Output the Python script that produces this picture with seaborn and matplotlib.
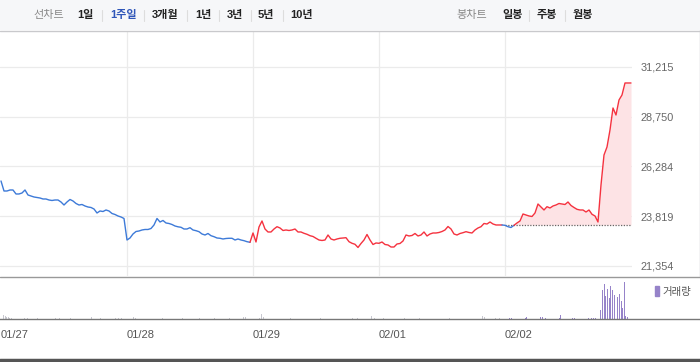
import pandas as pd
import matplotlib
matplotlib.use("Agg")
import matplotlib.pyplot as plt
import seaborn as sns
from matplotlib.patches import Rectangle, Patch
from matplotlib.lines import Line2D

# === data ===
dates = ["01/27", "01/28", "01/29", "02/01", "02/02"]

# intraday prices, evenly spaced samples per day
day1 = [25566, 25070, 25070, 25120, 25120, 24922, 24922, 24971, 25120, 24872, 24822, 24773, 24748, 24723,
        24674, 24674, 24624, 24600, 24624, 24624, 24525, 24376, 24525, 24649, 24575, 24451, 24376, 24401,
        24327, 24277, 24253, 24178, 23980, 24079, 24054, 24129, 24079, 23955, 23906, 23832, 23782, 23708]
day2 = [22642, 22741, 22940, 23063, 23088, 23138, 23163, 23163, 23212, 23386, 23708, 23534, 23609, 23485,
        23460, 23410, 23336, 23296, 23272, 23187, 23187, 23252, 23138, 23103, 23054, 22940, 22890, 22964,
        22855, 22806, 22741, 22727, 22692, 22717, 22727, 22727, 22642, 22692, 22642, 22608, 22558, 22528]
day3 = [22989, 22543, 23286, 23584, 23187, 23039, 23039, 23187, 23301, 23237, 23113, 23138, 23113, 23138,
        23187, 23039, 23039, 22974, 22925, 22855, 22816, 22727, 22642, 22618, 22642, 22890, 22692, 22642,
        22692, 22727, 22741, 22756, 22558, 22479, 22429, 22271, 22469, 22642, 22915, 22642, 22419, 22494]
day4 = [22479, 22543, 22419, 22395, 22295, 22295, 22444, 22469, 22593, 22890, 22841, 22865, 22964, 22841,
        22890, 23039, 22841, 22940, 22989, 22989, 23014, 23063, 23138, 23311, 23187, 22940, 22890, 22964,
        23004, 23054, 23014, 22989, 23138, 23237, 23301, 23460, 23435, 23534, 23435, 23386, 23386, 23386]
day5 = [23370, 23301, 23262, 23370, 23485, 23584, 23931, 23881, 23832, 23807, 23980, 24426, 24277, 24129,
        24292, 24228, 24327, 24377, 24451, 24426, 24401, 24525, 24352, 24253, 24163, 24129, 24129, 24030,
        24129, 23916, 23832, 23534, 25368, 26854, 27250, 28093, 29183, 28836, 29579, 29827, 30422, 30422,
        30422]

day_trend = ["down", "down", "up", "up"]   # colour of the first four days
prev_close = 23386                          # dotted reference line on the last day
price_ticks = [21354, 23819, 26284, 28750, 31215]

# volume bars: position in days, relative size
vol_time = [0.008, 0.020, 0.032, 0.044, 0.056, 0.071, 0.087, 0.111, 0.135, 0.190, 0.214, 0.254, 0.286,
            0.349, 0.389, 0.429, 0.468, 0.508, 0.548, 0.722, 0.746, 0.770, 0.786, 0.905, 0.929, 0.960,
            1.008, 1.024, 1.048, 1.071, 1.103, 1.238, 1.262, 1.278, 1.444, 1.579, 1.698, 1.817, 1.921,
            1.944, 1.976, 2.016, 2.048, 2.071, 2.087, 2.111,
            2.294, 2.532, 2.651, 2.730, 2.786, 2.833, 2.889, 2.944, 2.968, 2.992, 3.032, 3.127, 3.206,
            3.325, 3.484, 3.563, 3.643, 3.825, 3.841, 3.921, 3.960,
            4.008, 4.032, 4.048, 4.103, 4.119, 4.159, 4.167, 4.238, 4.262, 4.278, 4.294, 4.325, 4.373,
            4.397, 4.429, 4.444, 4.500, 4.516, 4.532, 4.548, 4.619, 4.635, 4.659, 4.690, 4.706, 4.722,
            4.738, 4.760, 4.772, 4.786, 4.799, 4.815, 4.828, 4.841, 4.855, 4.868, 4.881, 4.895, 4.907,
            4.921, 4.934, 4.947, 4.960, 4.974]
vol_size = [5, 4, 3, 2, 2, 1.5, 1, 1, 1, 1, 1, 1, 1,
            1, 1, 1, 1, 1, 1, 2, 2, 1.5, 1, 1, 1, 1,
            3, 3, 2, 1.5, 1, 2, 1, 1, 1, 1, 1, 1, 2,
            2, 2, 2, 1.5, 5, 2, 1.5,
            1, 1, 1, 1, 1, 1, 1, 3, 1, 1, 1, 1, 1,
            1, 1, 1, 1, 3, 2, 1, 1,
            1.5, 1.5, 1, 1, 1, 1.5, 2, 1, 4, 2, 2, 1, 1,
            1, 1, 4, 1, 1, 1, 1, 1, 1, 1, 1, 1, 1,
            2, 9, 29, 35, 23, 30, 21, 33, 29, 24, 24, 22, 25,
            18, 11, 37, 3, 2]

period_tabs = ["1일", "1주일", "3개월", "1년", "3년", "5년", "10년"]
candle_tabs = ["일봉", "주봉", "월봉"]

# === styling ===
sns.set_style("white")
plt.rcParams["font.family"] = ["Liberation Sans", "Noto Sans CJK KR", "DejaVu Sans"]

UP, DOWN = "#f5323f", "#3d7ad8"
colors = {"up": UP, "down": DOWN}

W, H = 700, 362
fig = plt.figure(figsize=(7, 3.62), dpi=100)


def fx(px):
    return px / W


def fy(py):
    return 1 - py / H


# long table of all samples
days = [day1, day2, day3, day4, day5]
rows = []
for k, vals in enumerate(days):
    for j, v in enumerate(vals):
        rows.append((k + j / 42, v, k))
df = pd.DataFrame(rows, columns=["t", "price", "day"])
df["trend"] = [day_trend[d] if d < 4 else ("up" if p >= prev_close else "down")
               for d, p in zip(df["day"], df["price"])]

# === main price panel ===
ax = fig.add_axes([0, fy(276), fx(632), (276 - 31) / H])
ax.set_xlim(-1 / 126, 631 / 126)
ax.set_ylim(20858, 32998)

last = df[df["day"] == 4]
ax.fill_between(last["t"], last["price"], prev_close, where=last["price"] >= prev_close,
                interpolate=True, color="#fde3e5", lw=0, zorder=1)
ax.hlines(prev_close, 4, 5, colors="#666666", linestyles=(0, (1, 1.2)), lw=0.9, zorder=2)

seg_id = (df["trend"] != df["trend"].shift()).cumsum()
for sid, g in df.groupby(seg_id):
    start = g.index[0]
    col = colors[g["trend"].iloc[0]]
    if start > 0:
        g = pd.concat([df.loc[[start - 1]], g])
    sns.lineplot(data=g, x="t", y="price", color=col, lw=1.0, ax=ax,
                 estimator=None, sort=False, zorder=3)

ax.set_yticks(price_ticks)
ax.set_yticklabels([f"{v:,}" for v in price_ticks])
ax.yaxis.tick_right()
ax.set_xticks([1, 2, 3, 4])
ax.set_xticklabels([])
ax.tick_params(axis="y", length=0, pad=6, labelsize=7.8, labelcolor="#666666")
ax.tick_params(axis="x", length=0)
ax.grid(True, color="#ebebeb", lw=0.9)
ax.set_xlabel("")
ax.set_ylabel("")
for s in ax.spines.values():
    s.set_visible(False)

# === volume panel ===
axv = fig.add_axes([0, fy(319), 1, 42 / H])
axv.set_xlim(-1 / 126, 699 / 126)
axv.set_ylim(0, 42)
vol_colors = ["#9683c9" if t >= 4 else "#c8c8d0" for t in vol_time]
axv.bar(vol_time, vol_size, width=0.0075, color=vol_colors, lw=0)
axv.set_xticks(range(len(dates)))
axv.set_xticklabels(dates, ha="left")
axv.set_yticks([])
axv.tick_params(axis="x", length=5, width=0.9, color="#777777", labelsize=8,
                labelcolor="#555555", pad=3)
for name, s in axv.spines.items():
    s.set_visible(name == "bottom")
axv.spines["bottom"].set_color("#777777")
axv.spines["bottom"].set_linewidth(1.0)
axv.legend(handles=[Patch(color="#9683c9")], labels=["거래량"], loc="upper left",
           bbox_to_anchor=(fx(650), fy(281)), bbox_transform=fig.transFigure,
           handlelength=0.35, handleheight=1.1, handletextpad=0.35, borderpad=0,
           frameon=False, fontsize=7.5, labelcolor="#555555")

# === frame lines ===
fig.add_artist(Rectangle((0, fy(30)), 1, 30 / H, transform=fig.transFigure,
                         facecolor="#f6f7f9", edgecolor="none", zorder=0))
fig.add_artist(Line2D([0, 1], [fy(30.5), fy(30.5)], transform=fig.transFigure, color="#c9c9cc", lw=1))
fig.add_artist(Line2D([fx(699.5), fx(699.5)], [fy(30), fy(276)], transform=fig.transFigure,
                      color="#c9c9cc", lw=1))
fig.add_artist(Line2D([0, 1], [fy(276.5), fy(276.5)], transform=fig.transFigure, color="#999999", lw=1))
fig.add_artist(Line2D([0, 1], [fy(360), fy(360)], transform=fig.transFigure, color="#555555", lw=2.5))

# === top tab bar ===
ty = fy(15)
fig.text(fx(33), ty, "선차트", ha="left", va="center", fontsize=8, color="#888888")
tab_x = [77, 110, 152, 195, 227, 258, 290]
for x, lab in zip(tab_x, period_tabs):
    fig.text(fx(x), ty, lab, ha="left", va="center", fontsize=8, fontweight="bold",
             color="#2f56b9" if lab == "1주일" else "#222222")
for x in [102, 144, 187, 219, 251, 283, 529, 565]:
    fig.add_artist(Line2D([fx(x), fx(x)], [fy(10), fy(21)], transform=fig.transFigure,
                          color="#dddddd", lw=0.8))
fig.text(fx(456), ty, "봉차트", ha="left", va="center", fontsize=8, color="#888888")
for x, lab in zip([502, 537, 573], candle_tabs):
    fig.text(fx(x), ty, lab, ha="left", va="center", fontsize=8, fontweight="bold", color="#222222")

fig.savefig("out.png", dpi=100)
